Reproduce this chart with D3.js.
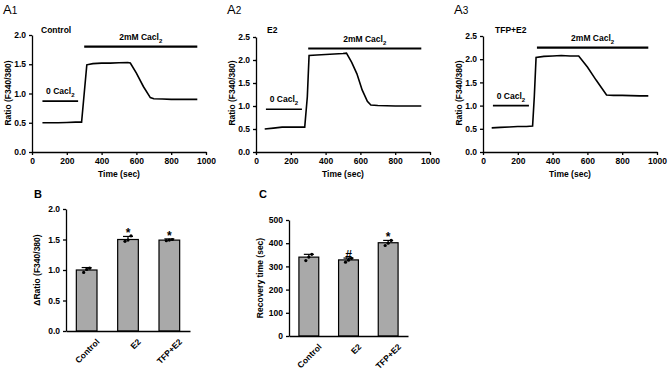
<!DOCTYPE html>
<html>
<head>
<meta charset="utf-8">
<script src="https://cdn.jsdelivr.net/npm/d3@7"></script>
<style>
  body { margin: 0; background: #fff; }
  svg { font-family: "Liberation Sans", Arial, sans-serif; font-weight: bold; }
  .axis path, .axis line { stroke: #000; stroke-width: 1.3; }
  .axis text { font-size: 8.5px; font-weight: bold; fill: #000; }
</style>
</head>
<body>
<svg width="669" height="372"></svg>
<script>
// trace data (time in sec, ratio F340/380)
var a1Time  = [60, 100, 150, 200, 250, 285, 300, 315, 350, 400, 450, 500, 550, 565, 600, 640, 680, 700, 750, 800, 850, 900, 950];
var a1Ratio = [0.50, 0.50, 0.50, 0.505, 0.51, 0.51, 1.0, 1.49, 1.51, 1.52, 1.52, 1.525, 1.53, 1.52, 1.35, 1.12, 0.93, 0.91, 0.905, 0.90, 0.90, 0.90, 0.90];
var a2Time  = [50, 100, 150, 200, 250, 280, 295, 305, 350, 400, 450, 500, 520, 550, 580, 610, 640, 660, 700, 800, 950];
var a2Ratio = [0.50, 0.52, 0.54, 0.54, 0.54, 0.54, 1.2, 2.10, 2.11, 2.12, 2.13, 2.14, 2.15, 1.95, 1.70, 1.35, 1.10, 1.02, 1.01, 1.00, 1.00];
var a3Time  = [50, 100, 150, 200, 250, 285, 295, 305, 350, 400, 450, 500, 550, 600, 650, 710, 750, 800, 900, 950];
var a3Ratio = [0.52, 0.53, 0.54, 0.55, 0.55, 0.56, 1.2, 2.04, 2.06, 2.07, 2.08, 2.07, 2.07, 1.83, 1.55, 1.23, 1.22, 1.22, 1.21, 1.21];

// bar data
var groups = ["Control", "E2", "TFP+E2"];
var dRatio = [1.0, 1.5, 1.49];
var dRatioSem = [0.04, 0.05, 0.02];
var dRatioPts = [[0.96, 1.01, 1.03], [1.47, 1.49, 1.56], [1.48, 1.49, 1.50]];
var dRatioMark = ["", "*", "*"];
var recTime = [340, 328, 402];
var recSem = [12, 8, 10];
var recPts = [[325, 340, 352], [318, 327, 335], [390, 400, 412]];
var recMark = ["", "#", "*"];

var svg = d3.select("svg");

function sub(sel, main, s, size) {
  sel.append("tspan").text(main);
  sel.append("tspan").attr("font-size", size).attr("dy", 3).text(s);
}

function tracePanel(o) {
  var x = d3.scaleLinear().domain([0, 1000]).range([o.left, o.left + 174]);
  var y = d3.scaleLinear().domain([0, o.ymax]).range([152, o.top]);

  svg.append("g").attr("class", "axis")
    .attr("transform", "translate(0,152)")
    .call(d3.axisBottom(x).tickValues([0, 200, 400, 600, 800, 1000]).tickFormat(d3.format("d")).tickSize(3).tickSizeOuter(0));
  svg.append("g").attr("class", "axis")
    .attr("transform", "translate(" + o.left + ",0)")
    .call(d3.axisLeft(y).ticks(o.ymax / 0.5).tickFormat(d3.format(".1f")).tickSize(3).tickSizeOuter(0));

  var line = d3.line().x(function(d, i) { return x(o.t[i]); }).y(function(d) { return y(d); });
  svg.append("path").attr("d", line(o.v))
    .attr("fill", "none").attr("stroke", "#000").attr("stroke-width", 1.6);

  // stimulus bars
  svg.append("line").attr("x1", x(o.zero[0])).attr("x2", x(o.zero[1]))
    .attr("y1", y(o.zero[2])).attr("y2", y(o.zero[2])).attr("stroke", "#000").attr("stroke-width", 1.6);
  sub(svg.append("text").attr("x", x((o.zero[0] + o.zero[1]) / 2)).attr("y", y(o.zero[2]) - 7)
    .attr("text-anchor", "middle").attr("font-size", 8.5), "0 Cacl", "2", 6);
  svg.append("line").attr("x1", x(o.ca[0])).attr("x2", x(o.ca[1]))
    .attr("y1", y(o.ca[2])).attr("y2", y(o.ca[2])).attr("stroke", "#000").attr("stroke-width", 2.2);
  sub(svg.append("text").attr("x", x((o.ca[0] + o.ca[1]) / 2)).attr("y", y(o.ca[2]) - 7)
    .attr("text-anchor", "middle").attr("font-size", 8.5), "2mM Cacl", "2", 6);

  svg.append("text").attr("x", o.left + o.nameDx).attr("y", 33)
    .attr("font-size", 8.5).text(o.name);
  svg.append("text").attr("x", o.left + 87).attr("y", 177)
    .attr("text-anchor", "middle").attr("font-size", 8.5).text("Time (sec)");
  svg.append("text").attr("transform", "translate(" + (o.left - 21) + ",93) rotate(-90)")
    .attr("text-anchor", "middle").attr("font-size", 8.5).text("Ratio (F340/380)");

  var p = svg.append("text").attr("x", o.left - 29).attr("y", 14)
    .attr("font-size", 13).attr("font-weight", "normal");
  p.append("tspan").text("A");
  p.append("tspan").attr("font-size", 10).text(o.idx);
}

tracePanel({left: 32, top: 35, ymax: 2.0, t: a1Time, v: a1Ratio, name: "Control", nameDx: 9, idx: "1",
  zero: [60, 265, 0.87], ca: [300, 950, 1.8]});
tracePanel({left: 256, top: 37, ymax: 2.5, t: a2Time, v: a2Ratio, name: "E2", nameDx: 11, idx: "2",
  zero: [57, 264, 0.93], ca: [300, 950, 2.25]});
tracePanel({left: 483, top: 36, ymax: 2.5, t: a3Time, v: a3Ratio, name: "TFP+E2", nameDx: 12, idx: "3",
  zero: [57, 264, 1.0], ca: [310, 950, 2.25]});

function barPanel(o) {
  var x = d3.scaleBand().domain(groups).range([o.left, o.right]).paddingInner(0.5).paddingOuter(0.25);
  var y = d3.scaleLinear().domain([0, o.ymax]).range([o.bottom, o.top]);

  groups.forEach(function(g, i) {
    var cx = x(g) + x.bandwidth() / 2;
    svg.append("rect").attr("x", x(g)).attr("y", y(o.mean[i]))
      .attr("width", x.bandwidth()).attr("height", y(0) - y(o.mean[i]))
      .attr("fill", "#a9a9a9").attr("stroke", "#000").attr("stroke-width", 1.2);
    svg.append("line").attr("x1", cx).attr("x2", cx)
      .attr("y1", y(o.mean[i])).attr("y2", y(o.mean[i] + o.sem[i])).attr("stroke", "#000").attr("stroke-width", 1.2);
    svg.append("line").attr("x1", cx - 5).attr("x2", cx + 5)
      .attr("y1", y(o.mean[i] + o.sem[i])).attr("y2", y(o.mean[i] + o.sem[i])).attr("stroke", "#000").attr("stroke-width", 1.2);
    o.pts[i].forEach(function(v, j) {
      svg.append("circle").attr("cx", cx + (j - 1) * 3).attr("cy", y(v)).attr("r", 1.6).attr("fill", "#000");
    });
    if (o.mark[i]) {
      svg.append("text").attr("x", cx).attr("y", y(o.mean[i] + o.sem[i]) + 1)
        .attr("text-anchor", "middle").attr("font-size", 12).text(o.mark[i]);
    }
  });

  svg.append("g").attr("class", "axis")
    .attr("transform", "translate(0," + o.bottom + ")")
    .call(d3.axisBottom(x).tickSize(0).tickSizeOuter(0))
    .selectAll("text")
    .attr("font-size", 9)
    .attr("text-anchor", "end")
    .attr("transform", "translate(7,5) rotate(-45)");
  svg.append("g").attr("class", "axis")
    .attr("transform", "translate(" + o.left + ",0)")
    .call(d3.axisLeft(y).ticks(5).tickFormat(o.fmt).tickSize(3).tickSizeOuter(0));

  svg.append("text").attr("transform", "translate(" + (o.left - o.labDx) + "," + ((o.top + o.bottom) / 2) + ") rotate(-90)")
    .attr("text-anchor", "middle").attr("font-size", 8.5).text(o.title);
  svg.append("text").attr("x", o.letterX).attr("y", 198).attr("font-size", 11).text(o.letter);
}

barPanel({left: 66, right: 190, top: 209, bottom: 331, ymax: 2.0, mean: dRatio, sem: dRatioSem, pts: dRatioPts,
  mark: dRatioMark, fmt: d3.format(".1f"), title: "\u0394Ratio (F340/380)", labDx: 26, letter: "B", letterX: 34});
barPanel({left: 289, right: 408, top: 220, bottom: 336, ymax: 500, mean: recTime, sem: recSem, pts: recPts,
  mark: recMark, fmt: d3.format("d"), title: "Recovery time (sec)", labDx: 26, letter: "C", letterX: 259});
</script>
</body>
</html>
